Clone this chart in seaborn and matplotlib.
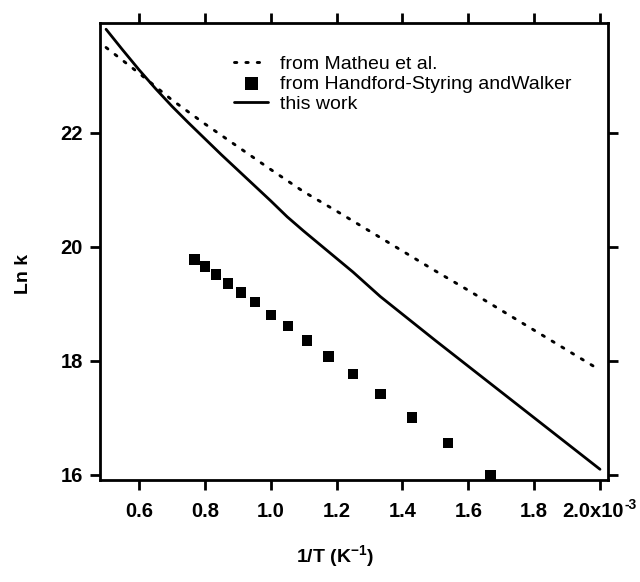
import matplotlib
matplotlib.use("Agg")
import matplotlib.pyplot as plt
import matplotlib.transforms as mtransforms
import seaborn as sns
import pandas as pd
from matplotlib.ticker import FixedLocator, FixedFormatter

# ---- data (x in units of 1e-3 K^-1) ----
x_matheu = [0.50, 0.60, 0.70, 0.80, 0.90, 1.00, 1.10, 1.20, 1.30, 1.40, 1.50, 1.60, 1.70, 1.80, 1.90, 2.00]
y_matheu = [23.50, 23.05, 22.58, 22.16, 21.76, 21.36, 20.97, 20.63, 20.28, 19.93, 19.58, 19.24, 18.89, 18.54, 18.19, 17.84]

x_hsw = [0.769, 0.800, 0.833, 0.870, 0.909, 0.952, 1.000, 1.053, 1.111, 1.176, 1.250, 1.333, 1.429, 1.538, 1.667]
y_hsw = [19.78, 19.66, 19.52, 19.36, 19.20, 19.03, 18.81, 18.61, 18.36, 18.08, 17.77, 17.42, 17.01, 16.56, 16.00]

x_this = [0.50, 0.55, 0.60, 0.65, 0.70, 0.75, 0.80, 0.85, 0.90, 0.95, 1.00, 1.05, 1.10, 1.15, 1.20, 1.25, 1.333, 1.50, 1.75, 2.00]
y_this = [23.82, 23.46, 23.11, 22.78, 22.47, 22.18, 21.90, 21.62, 21.35, 21.08, 20.81, 20.53, 20.28, 20.04, 19.80, 19.56, 19.13, 18.36, 17.23, 16.10]

x_ticks = [0.6, 0.8, 1.0, 1.2, 1.4, 1.6, 1.8, 2.0]
x_ticklabels = ["0.6", "0.8", "1.0", "1.2", "1.4", "1.6", "1.8", "2.0x10"]
x_tick_exponent = "-3"
y_ticks = [16, 18, 20, 22]
y_ticklabels = ["16", "18", "20", "22"]

lab_matheu = "from Matheu et al."
lab_hsw = "from Handford-Styring andWalker"
lab_this = "this work"

sns.set_style("ticks")
plt.rcParams['font.family'] = ['Liberation Sans', 'DejaVu Sans']
plt.rcParams['mathtext.fontset'] = 'custom'
plt.rcParams['mathtext.rm'] = 'Liberation Sans:bold'
plt.rcParams['mathtext.it'] = 'Liberation Sans:bold'
plt.rcParams['mathtext.bf'] = 'Liberation Sans:bold'
plt.rcParams['mathtext.default'] = 'bf'
plt.rcParams['text.color'] = 'black'

fig = plt.figure(figsize=(6.4, 5.82), dpi=100)
ax = fig.add_axes([100/640, 1-480/582, 508/640, (480-22.7)/582])

df_m = pd.DataFrame({"x": x_matheu, "y": y_matheu})
df_h = pd.DataFrame({"x": x_hsw, "y": y_hsw})
df_t = pd.DataFrame({"x": x_this, "y": y_this})

sns.lineplot(data=df_m, x="x", y="y", ax=ax, color="black", linewidth=2.1,
             linestyle=(0, (0.8, 3.1)), dash_capstyle="round", label=lab_matheu, sort=False)
sns.scatterplot(data=df_h, x="x", y="y", ax=ax, color="black", marker="s", s=56,
                edgecolor="none", label=lab_hsw)
sns.lineplot(data=df_t, x="x", y="y", ax=ax, color="black", linewidth=2.0,
             label=lab_this, sort=False)

ax.set_xlim(0.4816, 2.0243)
ax.set_ylim(15.912, 23.935)

ax.xaxis.set_major_locator(FixedLocator(x_ticks))
ax.xaxis.set_major_formatter(FixedFormatter(x_ticklabels))
ax.yaxis.set_major_locator(FixedLocator(y_ticks))
ax.yaxis.set_major_formatter(FixedFormatter(y_ticklabels))

for s in ax.spines.values():
    s.set_visible(True)
    s.set_linewidth(2.0)
    s.set_color("black")

ax.tick_params(axis="both", which="major", direction="out", length=7.5, width=2.0,
               color="black", labelcolor="black", labelsize=14.5, top=True, right=True,
               labeltop=False, labelright=False)
ax.tick_params(axis="x", pad=8)
ax.tick_params(axis="y", pad=5)
for lbl in ax.get_xticklabels() + ax.get_yticklabels():
    lbl.set_fontweight("bold")

ax.set_xlabel("1/T (K$^{-1}$)", fontsize=14, fontweight="bold", color="black")
ax.set_ylabel("Ln k", fontsize=14, fontweight="bold", color="black")
ax.xaxis.label.set_va("center")
ax.yaxis.label.set_va("center")
ax.xaxis.set_label_coords(0.462, -0.166)
ax.yaxis.set_label_coords(-0.150, 0.45)

leg = ax.legend(loc="upper left", bbox_to_anchor=(0.2638, 0.929), frameon=False,
                fontsize=14, handlelength=1.75, handletextpad=0.6, labelspacing=0.13,
                borderpad=0, borderaxespad=0, markerscale=1.25)
for t in leg.get_texts():
    t.set_fontweight("normal")
    t.set_color("black")

# shift last tick label left and add exponent superscript
fig.canvas.draw()
last = ax.get_xticklabels()[-1]
last.set_transform(last.get_transform() + mtransforms.ScaledTranslation(-7/100, 0, fig.dpi_scale_trans))
fig.canvas.draw()
bb = last.get_window_extent()
fig.text(bb.x1 / fig.bbox.width + 0.5/640, (bb.y1 + 4) / fig.bbox.height, x_tick_exponent,
         fontsize=10, fontweight="bold", color="black", ha="left", va="top")

fig.savefig("out.png", dpi=100, facecolor="white")
